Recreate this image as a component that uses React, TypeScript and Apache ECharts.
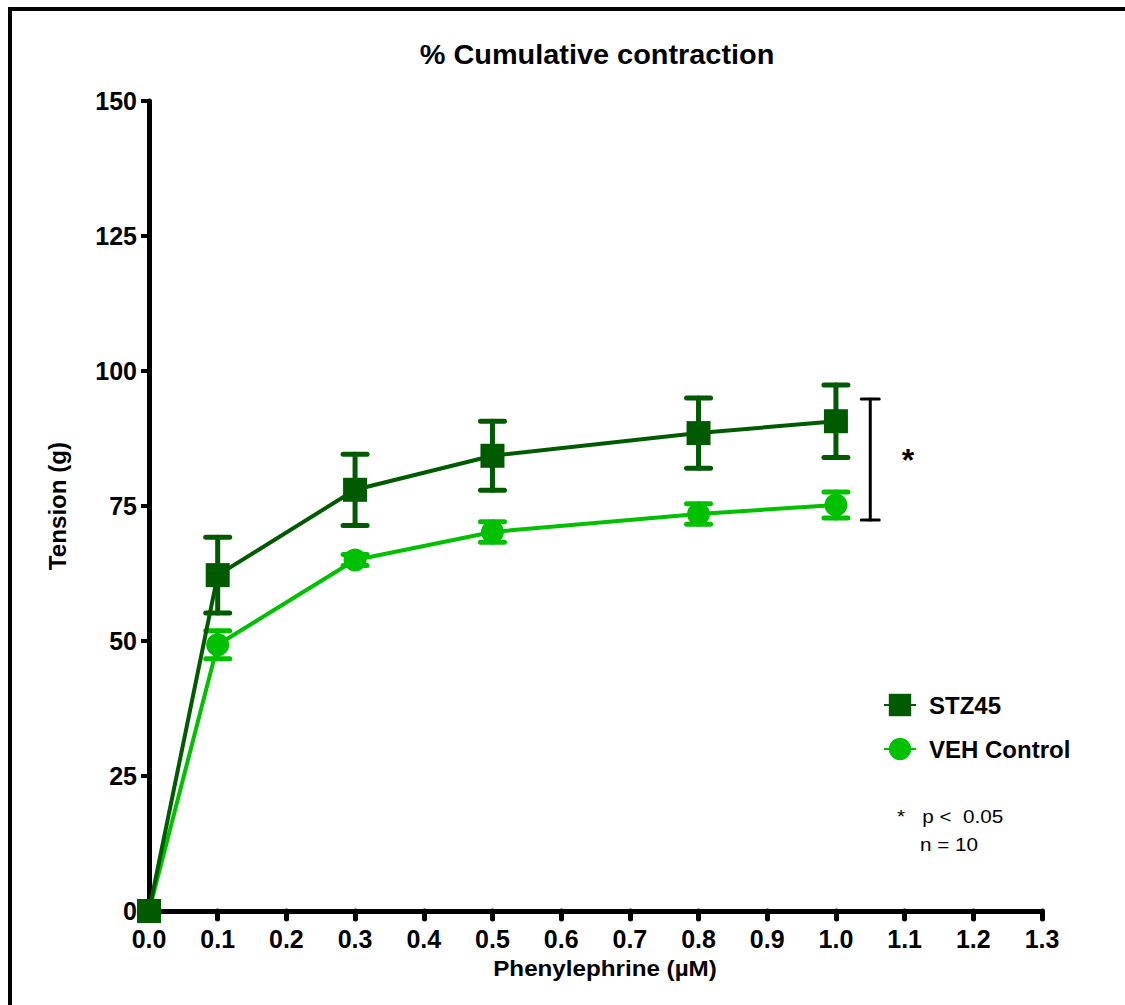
import { useEffect, useRef } from 'react';
import * as echarts from 'echarts';

// Phenylephrine dose (µM) and group responses (mean ± SEM)
const doses = [0, 0.1, 0.3, 0.5, 0.8, 1.0];
const stzMean = [0, 62.2, 78.0, 84.3, 88.5, 90.7];
const stzSem = [0, 7.0, 6.6, 6.4, 6.5, 6.7];
const vehMean = [0, 49.3, 65.0, 70.2, 73.5, 75.2];
const vehSem = [0, 2.6, 1.0, 1.9, 1.9, 2.4];

// significance bracket: [x, low, high]
const bracket = [[1.05, 72.4, 94.8]];
const bracketStarPos = [1.105, 83.5];

const seriesNames = ['STZ45', 'VEH Control'];
const notes = ['*   p <  0.05', 'n = 10'];

const DARK = '#005a00';
const LIGHT = '#00c000';
const FONT = 'Arial, "Liberation Sans", sans-serif';

function errorBarRenderer(color: string) {
  return (params: any, api: any) => {
    const x = api.value(0);
    const lo = api.value(1);
    const hi = api.value(2);
    if (!(hi > lo)) return null;
    const top = api.coord([x, hi]);
    const bot = api.coord([x, lo]);
    const hw = 12;
    const style = { stroke: color, lineWidth: 5, lineCap: 'round' };
    return {
      type: 'group',
      children: [
        { type: 'line', shape: { x1: top[0], y1: top[1], x2: bot[0], y2: bot[1] }, style },
        { type: 'line', shape: { x1: top[0] - hw, y1: top[1], x2: top[0] + hw, y2: top[1] }, style },
        { type: 'line', shape: { x1: bot[0] - hw, y1: bot[1], x2: bot[0] + hw, y2: bot[1] }, style },
      ],
    };
  };
}

export default function App() {
  const ref = useRef<HTMLDivElement>(null);

  useEffect(() => {
    if (!ref.current) return;
    const chart = echarts.init(ref.current, null, { renderer: 'svg' });

    const stzPts = doses.map((d, i) => [d, stzMean[i]]);
    const vehPts = doses.map((d, i) => [d, vehMean[i]]);
    const stzErr = doses.map((d, i) => [d, stzMean[i] - stzSem[i], stzMean[i] + stzSem[i]]);
    const vehErr = doses.map((d, i) => [d, vehMean[i] - vehSem[i], vehMean[i] + vehSem[i]]);

    chart.setOption({
      animation: false,
      backgroundColor: '#fff',
      grid: { left: 149, right: 83, top: 101, bottom: 94 },
      legend: {
        data: seriesNames,
        orient: 'vertical',
        left: 878,
        top: 688,
        itemWidth: 32,
        itemHeight: 28,
        itemGap: 20,
        textStyle: {
          fontFamily: FONT,
          fontWeight: 'bold',
          fontSize: 24,
          color: '#000',
          padding: [0, 0, 0, 8],
        },
      },
      xAxis: {
        type: 'value',
        min: 0,
        max: 1.3,
        interval: 0.1,
        splitLine: { show: false },
        axisLine: { lineStyle: { color: '#000', width: 5 } },
        axisTick: { length: 8, lineStyle: { color: '#000', width: 5, cap: 'round' } },
        axisLabel: {
          color: '#000',
          fontFamily: FONT,
          fontWeight: 'bold',
          fontSize: 25,
          margin: 15,
          formatter: (v: number) => v.toFixed(1),
        },
      },
      yAxis: {
        type: 'value',
        min: 0,
        max: 150,
        interval: 25,
        splitLine: { show: false },
        axisLine: { lineStyle: { color: '#000', width: 5 } },
        axisTick: { length: 8, lineStyle: { color: '#000', width: 4 } },
        axisLabel: {
          color: '#000',
          fontFamily: FONT,
          fontWeight: 'bold',
          fontSize: 25,
          margin: 12,
        },
      },
      graphic: [
        {
          type: 'rect',
          shape: { x: 10, y: 9, width: 1300, height: 1200 },
          style: { fill: 'none', stroke: '#000', lineWidth: 4 },
          silent: true,
        },
        {
          type: 'text',
          x: 597,
          y: 55,
          scaleX: 1.07,
          style: {
            text: '% Cumulative contraction',
            font: `bold 27px ${FONT}`,
            fill: '#000',
            textAlign: 'center',
            textVerticalAlign: 'middle',
          },
        },
        {
          type: 'text',
          x: 605,
          y: 968,
          scaleX: 1.1,
          style: {
            text: 'Phenylephrine (µM)',
            font: `bold 22px ${FONT}`,
            fill: '#000',
            textAlign: 'center',
            textVerticalAlign: 'middle',
          },
        },
        {
          type: 'text',
          x: 58,
          y: 506,
          rotation: Math.PI / 2,
          scaleX: 1.05,
          style: {
            text: 'Tension (g)',
            font: `bold 23px ${FONT}`,
            fill: '#000',
            textAlign: 'center',
            textVerticalAlign: 'middle',
          },
        },
        {
          type: 'text',
          x: 897,
          y: 817,
          scaleX: 1.15,
          style: {
            text: notes[0],
            font: `18px ${FONT}`,
            fill: '#000',
            textAlign: 'left',
            textVerticalAlign: 'middle',
          },
        },
        {
          type: 'text',
          x: 920,
          y: 845,
          scaleX: 1.15,
          style: {
            text: notes[1],
            font: `18px ${FONT}`,
            fill: '#000',
            textAlign: 'left',
            textVerticalAlign: 'middle',
          },
        },
      ],
      series: [
        {
          type: 'custom',
          name: 'VEH Control SEM',
          data: vehErr,
          encode: { x: 0, y: [1, 2] },
          renderItem: errorBarRenderer(LIGHT),
          clip: false,
          z: 2,
        },
        {
          type: 'custom',
          name: 'STZ45 SEM',
          data: stzErr,
          encode: { x: 0, y: [1, 2] },
          renderItem: errorBarRenderer(DARK),
          clip: false,
          z: 2,
        },
        {
          type: 'line',
          name: seriesNames[1],
          data: vehPts,
          symbol: 'circle',
          symbolSize: 23,
          clip: false,
          itemStyle: { color: LIGHT },
          lineStyle: { color: LIGHT, width: 4 },
          z: 3,
        },
        {
          type: 'line',
          name: seriesNames[0],
          data: stzPts,
          symbol: 'rect',
          symbolSize: 24,
          clip: false,
          itemStyle: { color: DARK },
          lineStyle: { color: DARK, width: 4 },
          z: 4,
        },
        {
          type: 'custom',
          name: 'significance',
          data: bracket,
          encode: { x: 0, y: [1, 2] },
          clip: false,
          z: 5,
          renderItem: (params: any, api: any) => {
            const x = api.value(0);
            const top = api.coord([x, api.value(2)]);
            const bot = api.coord([x, api.value(1)]);
            const star = api.coord(bracketStarPos);
            const hw = 9;
            const style = { stroke: '#000', lineWidth: 3, lineCap: 'round' };
            return {
              type: 'group',
              children: [
                { type: 'line', shape: { x1: top[0], y1: top[1], x2: bot[0], y2: bot[1] }, style },
                { type: 'line', shape: { x1: top[0] - hw, y1: top[1], x2: top[0] + hw, y2: top[1] }, style },
                { type: 'line', shape: { x1: bot[0] - hw, y1: bot[1], x2: bot[0] + hw, y2: bot[1] }, style },
                {
                  type: 'text',
                  x: star[0],
                  y: star[1],
                  style: {
                    text: '*',
                    font: `bold 32px ${FONT}`,
                    fill: '#000',
                    textAlign: 'center',
                    textVerticalAlign: 'middle',
                  },
                },
              ],
            };
          },
        },
      ],
    });

    return () => chart.dispose();
  }, []);

  return (
    <div
      ref={ref}
      style={{ position: 'absolute', left: 0, top: 0, width: 1125, height: 1005 }}
    />
  );
}
